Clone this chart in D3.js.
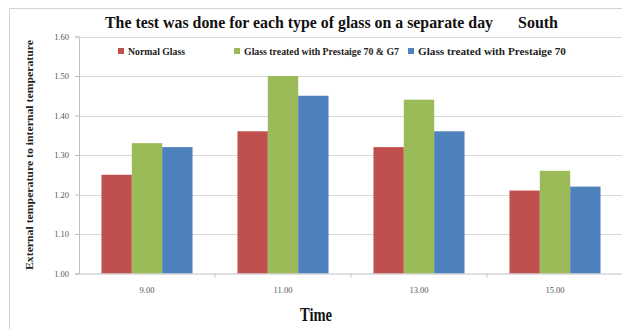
<!DOCTYPE html>
<html>
<head>
<meta charset="utf-8">
<script src="https://cdn.jsdelivr.net/npm/d3@7"></script>
<style>
  html, body { margin: 0; padding: 0; background: #fff; }
  svg { display: block; }
</style>
</head>
<body>
<svg id="chart" width="622" height="329"></svg>
<script>
// Ratio of external to internal temperature, by hour, for three glass treatments
const times = ["9.00", "11.00", "13.00", "15.00"];
const seriesNames = ["Normal Glass", "Glass treated with Prestaige 70 & G7", "Glass treated with Prestaige 70"];
const normalGlass = [1.25, 1.36, 1.32, 1.21];
const prestaigeG7 = [1.33, 1.50, 1.44, 1.26];
const prestaige70 = [1.32, 1.45, 1.36, 1.22];
const yTicks = [1.00, 1.10, 1.20, 1.30, 1.40, 1.50, 1.60];
const seriesColors = ["#C0504D", "#9BBB59", "#4F81BD"];

const values = [normalGlass, prestaigeG7, prestaige70];
const serif = "'Liberation Serif', 'Times New Roman', serif";

const svg = d3.select("#chart");
const W = 622, H = 329;
const plot = { left: 79, right: 623, top: 36.5, bottom: 273.5 };

// bold serif text set to a fixed width
function fitted(sel, size, width) {
  return sel.style("font-family", serif).style("font-size", size + "px").style("font-weight", "bold")
    .attr("textLength", width).attr("lengthAdjust", "spacingAndGlyphs");
}

// outer chart frame
svg.append("rect")
  .attr("x", 9.5).attr("y", 8.5)
  .attr("width", W + 10).attr("height", H + 10)
  .attr("fill", "#fff").attr("stroke", "#d4d4d4").attr("stroke-width", 1);

const x0 = d3.scaleBand().domain(times).range([plot.left, plot.right]).paddingInner(0).paddingOuter(0);
const x1 = d3.scaleBand().domain(seriesNames).range([0, x0.bandwidth()]).paddingInner(0).paddingOuter(0.74);
const y = d3.scaleLinear().domain([1.0, 1.6]).range([plot.bottom, plot.top]);

// horizontal gridlines
svg.append("g").selectAll("line").data(yTicks.slice(1)).join("line")
  .attr("x1", plot.left).attr("x2", W)
  .attr("y1", d => Math.round(y(d)) + 0.5).attr("y2", d => Math.round(y(d)) + 0.5)
  .attr("stroke", "#d9d9d9").attr("stroke-width", 1.2);

// bars
const groups = svg.append("g").selectAll("g").data(times).join("g")
  .attr("transform", d => `translate(${x0(d)},0)`);
groups.selectAll("rect")
  .data((t, i) => seriesNames.map((s, k) => ({ s, k, v: values[k][i] })))
  .join("rect")
  .attr("x", d => x1(d.s))
  .attr("width", x1.bandwidth())
  .attr("y", d => y(d.v))
  .attr("height", d => y(1.0) - y(d.v))
  .attr("fill", d => seriesColors[d.k]);

// y axis
const yAxis = d3.axisLeft(y).tickValues(yTicks).tickFormat(d3.format(".2f")).tickSize(4).tickPadding(6);
const gy = svg.append("g").attr("transform", `translate(${plot.left},0)`).call(yAxis);
gy.select(".domain").attr("stroke", "#bfbfbf");
gy.selectAll(".tick line").attr("stroke", "#bfbfbf");
gy.selectAll(".tick text").attr("fill", "#555").style("font-family", serif).style("font-size", "8.5px");

// x axis
const xAxis = d3.axisBottom(x0).tickSize(0).tickPadding(13);
const gx = svg.append("g").attr("transform", `translate(0,${plot.bottom})`).call(xAxis);
gx.select(".domain").attr("stroke", "#bfbfbf");
gx.selectAll(".tick text").attr("fill", "#555").style("font-family", serif).style("font-size", "8.5px");
// category boundary ticks
gx.append("g").selectAll("line").data(times.slice(1)).join("line")
  .attr("x1", d => x0(d)).attr("x2", d => x0(d))
  .attr("y1", 0).attr("y2", 4).attr("stroke", "#bfbfbf");

// title
svg.append("text").attr("x", 105).attr("y", 28).attr("fill", "#111")
  .call(fitted, 16, 388).text("The test was done for each type of glass on a separate day");
svg.append("text").attr("x", 518).attr("y", 28).attr("fill", "#111")
  .call(fitted, 16, 40).text("South");

// legend
const legendX = [118, 234, 408];
const legendW = [57, 155, 148];
const lg = svg.append("g").selectAll("g").data(seriesNames).join("g")
  .attr("transform", (d, i) => `translate(${legendX[i]},51)`);
lg.append("rect").attr("x", 0).attr("y", -3).attr("width", 6).attr("height", 6)
  .attr("fill", (d, i) => seriesColors[i]);
lg.append("text").attr("x", 10).attr("y", 3.5).attr("fill", "#222")
  .each(function (d, i) { d3.select(this).call(fitted, 10, legendW[i]); })
  .text(d => d);

// axis titles
svg.append("text")
  .attr("transform", "translate(33,155) rotate(-90)")
  .attr("text-anchor", "middle").attr("fill", "#222")
  .call(fitted, 10, 230).text("External temperature to internal temperature");

svg.append("text").attr("x", 300).attr("y", 321).attr("fill", "#111")
  .call(fitted, 19, 32).text("Time");
</script>
</body>
</html>
